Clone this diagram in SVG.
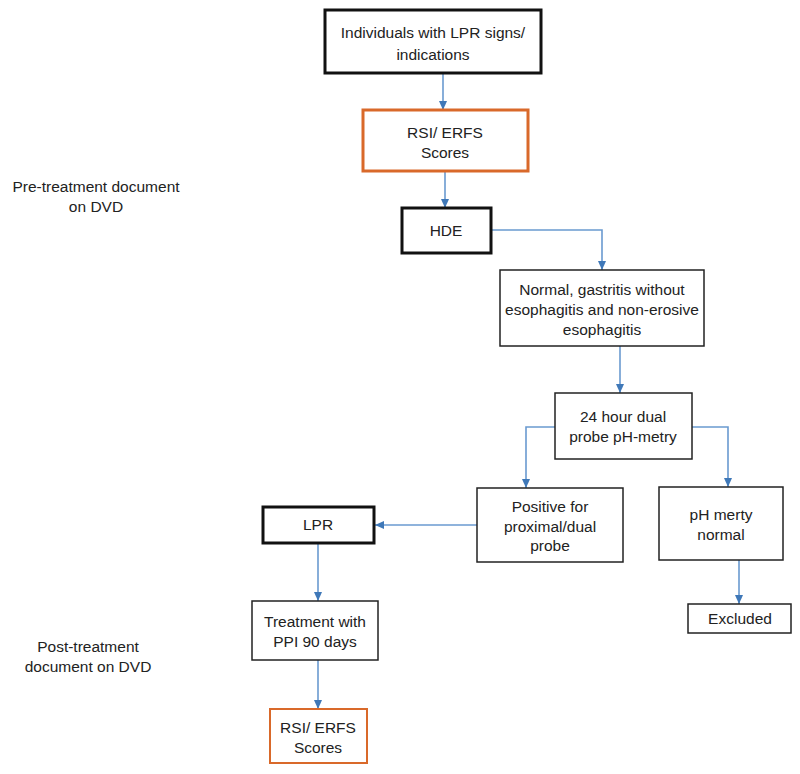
<svg xmlns="http://www.w3.org/2000/svg" width="800" height="774" viewBox="0 0 800 774">
<style>
  text { font-family: "Liberation Sans", Arial, sans-serif; font-size: 15.5px; fill: #222; text-anchor: middle; }
  .thick { fill: #fff; stroke: #111; stroke-width: 3; }
  .thin { fill: #fff; stroke: #222; stroke-width: 1.5; }
  .orange { fill: #fff; stroke: #d9692a; stroke-width: 3; }
  .orange2 { fill: #fff; stroke: #d9692a; stroke-width: 2; }
  .conn { fill: none; stroke: #6a9ad0; stroke-width: 1.6; marker-end: url(#arr); }
</style>
<defs>
  <marker id="arr" markerUnits="userSpaceOnUse" markerWidth="10" markerHeight="10" refX="9" refY="5" orient="auto">
    <path d="M0,1 L9,5 L0,9 Z" fill="#3f78b8"/>
  </marker>
</defs>
<rect width="800" height="774" fill="#fff"/>

<g id="label-pre">
  <text x="96" y="192">Pre-treatment document</text>
  <text x="96" y="212">on DVD</text>
</g>
<g id="label-post">
  <text x="88" y="652">Post-treatment</text>
  <text x="88" y="672">document on DVD</text>
</g>

<g id="connectors">
  <path class="conn" d="M443,74 V110"/>
  <path class="conn" d="M445,172 V208"/>
  <path class="conn" d="M491,230 H602 V270"/>
  <path class="conn" d="M620,346 V393"/>
  <path class="conn" d="M555,427 H526 V488"/>
  <path class="conn" d="M692,427 H728 V487"/>
  <path class="conn" d="M739,560 V604"/>
  <path class="conn" d="M477,525 H375"/>
  <path class="conn" d="M318,544 V601"/>
  <path class="conn" d="M318,660 V709"/>
</g>

<g id="node-individuals">
  <rect class="thick" x="325" y="10" width="216" height="63"/>
  <text x="433" y="38">Individuals with LPR signs/</text>
  <text x="433" y="60">indications</text>
</g>
<g id="node-rsi1">
  <rect class="orange" x="363" y="110" width="165" height="61"/>
  <text x="445" y="138">RSI/ ERFS</text>
  <text x="445" y="158">Scores</text>
</g>
<g id="node-hde">
  <rect class="thick" x="402" y="208" width="89" height="45"/>
  <text x="446" y="236">HDE</text>
</g>
<g id="node-normal">
  <rect class="thin" x="500" y="270" width="204" height="76"/>
  <text x="602" y="295">Normal, gastritis without</text>
  <text x="602" y="315">esophagitis and non-erosive</text>
  <text x="602" y="335">esophagitis</text>
</g>
<g id="node-24h">
  <rect class="thin" x="555" y="393" width="137" height="66"/>
  <text x="623" y="422">24 hour dual</text>
  <text x="623" y="442">probe pH-metry</text>
</g>
<g id="node-positive">
  <rect class="thin" x="477" y="488" width="146" height="74"/>
  <text x="550" y="512">Positive for</text>
  <text x="550" y="532">proximal/dual</text>
  <text x="550" y="551">probe</text>
</g>
<g id="node-ph">
  <rect class="thin" x="659" y="487" width="124" height="73"/>
  <text x="721" y="520">pH merty</text>
  <text x="721" y="540">normal</text>
</g>
<g id="node-excluded">
  <rect class="thin" x="688" y="604" width="103" height="29"/>
  <text x="740" y="624">Excluded</text>
</g>
<g id="node-lpr">
  <rect class="thick" x="263" y="507" width="111" height="36"/>
  <text x="318" y="530">LPR</text>
</g>
<g id="node-treatment">
  <rect class="thin" x="252" y="601" width="126" height="59"/>
  <text x="315" y="627">Treatment with</text>
  <text x="315" y="647">PPI 90 days</text>
</g>
<g id="node-rsi2">
  <rect class="orange2" x="270" y="709" width="97" height="54"/>
  <text x="318" y="733">RSI/ ERFS</text>
  <text x="318" y="753">Scores</text>
</g>
</svg>
